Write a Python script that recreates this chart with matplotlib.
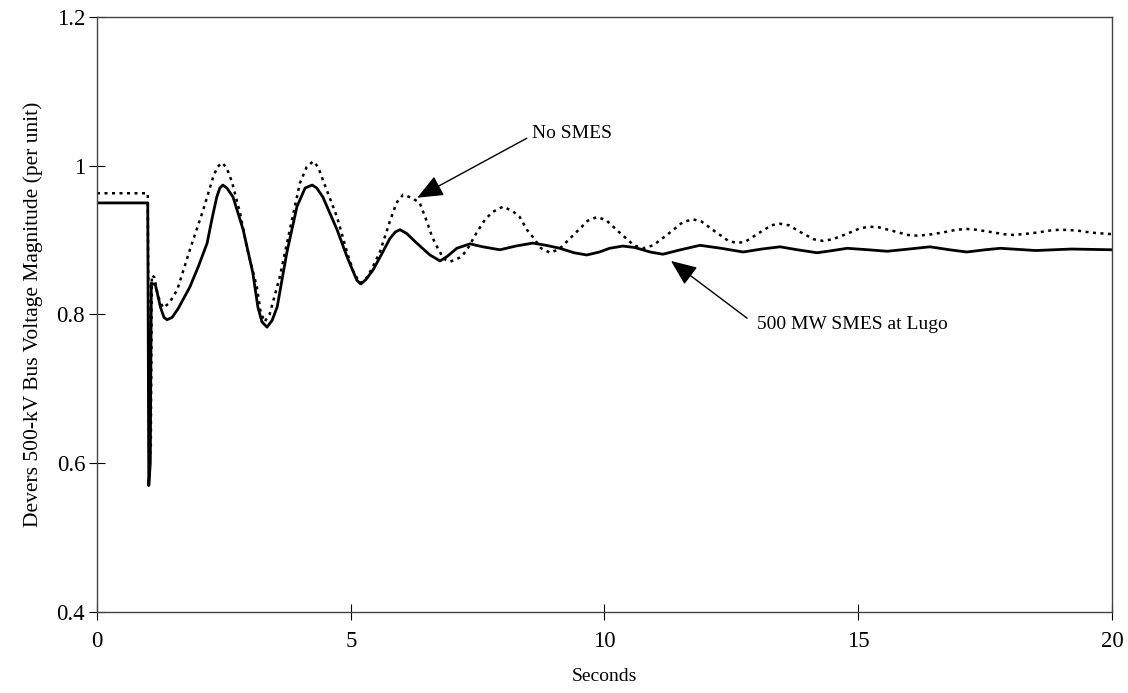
import matplotlib
matplotlib.use("Agg")
import matplotlib.pyplot as plt

plt.rcParams['font.family'] = ['Liberation Serif', 'DejaVu Serif']

# --- data ---
t_smes = [0, 1.0, 1.02, 1.05, 1.07, 1.15, 1.25, 1.32, 1.38, 1.48, 1.6, 1.83, 2.0, 2.17, 2.27,
          2.36, 2.42, 2.48, 2.56, 2.68, 2.88, 3.07, 3.17, 3.25, 3.35, 3.45, 3.55, 3.74, 3.94,
          4.1, 4.24, 4.33, 4.45, 4.73, 4.93, 5.12, 5.2, 5.3, 5.44, 5.6, 5.77, 5.88, 5.97, 6.1,
          6.3, 6.56, 6.76, 6.9, 7.09, 7.35, 7.6, 7.94, 8.25, 8.59, 8.85, 9.12, 9.4, 9.65, 9.9,
          10.1, 10.36, 10.6, 10.9, 11.15, 11.5, 11.88, 12.3, 12.73, 13.1, 13.46, 13.8, 14.19,
          14.5, 14.78, 15.2, 15.57, 16.0, 16.41, 16.8, 17.14, 17.5, 17.8, 18.5, 19.2, 20]
v_smes = [0.95, 0.95, 0.57, 0.60, 0.842, 0.84, 0.81, 0.796, 0.793, 0.796, 0.808, 0.837, 0.865,
          0.896, 0.93, 0.958, 0.970, 0.974, 0.970, 0.958, 0.914, 0.856, 0.81, 0.79, 0.783,
          0.792, 0.81, 0.883, 0.945, 0.97, 0.974, 0.97, 0.958, 0.914, 0.877, 0.846, 0.841,
          0.847, 0.86, 0.88, 0.902, 0.911, 0.914, 0.909, 0.896, 0.88, 0.872, 0.878, 0.889,
          0.895, 0.891, 0.887, 0.892, 0.896, 0.893, 0.889, 0.883, 0.880, 0.884, 0.889, 0.892,
          0.890, 0.884, 0.881, 0.887, 0.893, 0.889, 0.884, 0.888, 0.891, 0.887, 0.883, 0.886,
          0.889, 0.887, 0.885, 0.888, 0.891, 0.887, 0.884, 0.887, 0.889, 0.886, 0.888, 0.887]

t_no = [0, 1.0, 1.03, 1.06, 1.08, 1.13, 1.2, 1.3, 1.42, 1.58, 1.83, 2.09, 2.29, 2.37, 2.46,
        2.55, 2.66, 2.82, 2.95, 3.15, 3.22, 3.3, 3.4, 3.5, 3.6, 3.8, 4.0, 4.13, 4.26, 4.36,
        4.45, 4.73, 4.93, 5.05, 5.18, 5.3, 5.42, 5.58, 5.77, 5.9, 6.03, 6.2, 6.36, 6.5, 6.6,
        6.7, 6.83, 6.96, 7.17, 7.29, 7.48, 7.65, 7.8, 8.0, 8.19, 8.33, 8.47, 8.59, 8.75, 8.93,
        9.11, 9.39, 9.67, 9.85, 10.03, 10.3, 10.58, 10.76, 10.96, 11.25, 11.54, 11.74, 11.91,
        12.17, 12.44, 12.61, 12.78, 13.03, 13.29, 13.46, 13.63, 13.88, 14.13, 14.3, 14.49,
        14.76, 15.04, 15.23, 15.42, 15.7, 15.97, 16.16, 16.36, 16.65, 16.94, 17.14, 17.32,
        17.6, 17.87, 18.05, 18.24, 18.51, 18.79, 18.98, 19.3, 19.6, 20]
v_no = [0.963, 0.963, 0.60, 0.62, 0.853, 0.85, 0.825, 0.809, 0.815, 0.833, 0.887, 0.94, 0.985,
        0.998, 1.004, 0.998, 0.978, 0.936, 0.891, 0.837, 0.805, 0.79, 0.80, 0.825, 0.85,
        0.914, 0.977, 0.998, 1.006, 0.998, 0.981, 0.931, 0.883, 0.858, 0.842, 0.848, 0.862,
        0.885, 0.925, 0.950, 0.961, 0.957, 0.950, 0.925, 0.905, 0.891, 0.875, 0.871, 0.877,
        0.887, 0.910, 0.928, 0.938, 0.945, 0.939, 0.931, 0.914, 0.904, 0.889, 0.883, 0.888,
        0.907, 0.926, 0.931, 0.927, 0.910, 0.893, 0.889, 0.893, 0.908, 0.924, 0.928, 0.925,
        0.912, 0.899, 0.896, 0.898, 0.909, 0.920, 0.922, 0.920, 0.910, 0.901, 0.899, 0.901,
        0.908, 0.916, 0.918, 0.917, 0.912, 0.907, 0.906, 0.907, 0.910, 0.914, 0.915, 0.914,
        0.911, 0.908, 0.907, 0.908, 0.910, 0.913, 0.914, 0.913, 0.910, 0.908]

x_ticks = [0, 5, 10, 15, 20]
y_ticks = [0.4, 0.6, 0.8, 1.0, 1.2]
y_tick_labels = ["0.4", "0.6", "0.8", "1", "1.2"]

fig = plt.figure(figsize=(11.28, 6.93), dpi=100)
ax = fig.add_axes([0.086, 0.1169, 0.8998, 0.8586])

ax.plot(t_no, v_no, color='black', lw=1.8, linestyle=(0, (1.2, 1.8)))
ax.plot(t_smes, v_smes, color='black', lw=2.0)

ax.set_xlim(0, 20)
ax.set_ylim(0.4, 1.2)
ax.set_xticks(x_ticks)
ax.set_xticklabels([str(x) for x in x_ticks])
ax.set_yticks(y_ticks)
ax.set_yticklabels(y_tick_labels)
ax.tick_params(axis='both', direction='inout', length=11, width=0.8, labelsize=16.5,
               colors='black')
ax.tick_params(axis='x', pad=8)
ax.tick_params(axis='y', pad=3)
for s in ax.spines.values():
    s.set_linewidth(1.0)
    s.set_color('#444444')

ax.set_xlabel("Seconds", fontsize=14, labelpad=12)
ax.set_ylabel("Devers 500-kV Bus Voltage Magnitude (per unit)", fontsize=15.5, labelpad=10)

arrow = dict(arrowstyle='-|>,head_length=1.0,head_width=0.42', color='black',
             lw=1.0, mutation_scale=16, shrinkA=0, shrinkB=0)
ax.annotate("", xy=(6.31, 0.957), xytext=(8.47, 1.037), arrowprops=arrow)
ax.text(8.57, 1.044, "No SMES", fontsize=14, ha='left', va='center')
ax.annotate("", xy=(11.31, 0.872), xytext=(12.81, 0.795), arrowprops=arrow)
ax.text(13.0, 0.787, "500 MW SMES at Lugo", fontsize=14, ha='left', va='center')

fig.savefig("out.png", dpi=100)
